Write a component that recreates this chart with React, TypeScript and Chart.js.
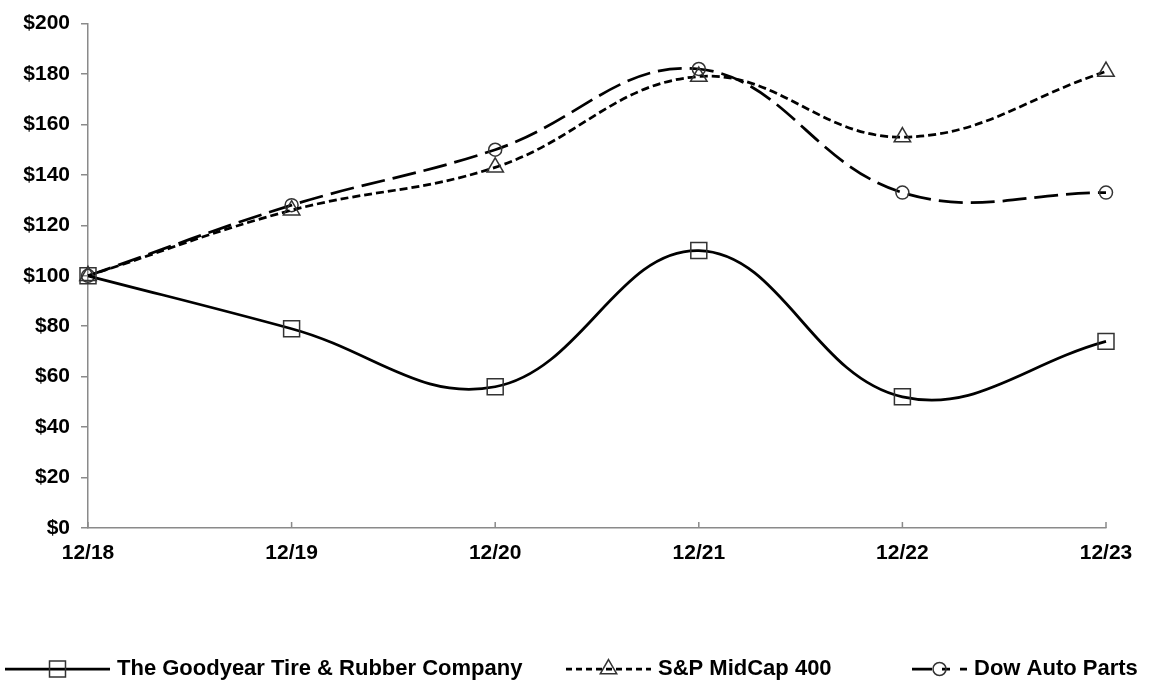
import React, { useEffect, useRef } from "react";
import { Chart, registerables } from "chart.js";

Chart.register(...registerables);

const categories = ["12/18", "12/19", "12/20", "12/21", "12/22", "12/23"];
const goodyear = [100, 79, 56, 110, 52, 74];
const spMidCap = [100, 126, 143, 179, 155, 181];
const dowAuto = [100, 128, 150, 182, 133, 133];
const seriesNames = ["The Goodyear Tire & Rubber Company", "S&P MidCap 400", "Dow Auto Parts"];
const yTicks = [0, 20, 40, 60, 80, 100, 120, 140, 160, 180, 200];

const FONT = "'Liberation Sans', Arial, Helvetica, sans-serif";
const AXIS_GRAY = "#8a8a8a";
const MARKER = "#333333";

const drawMarker = (ctx: CanvasRenderingContext2D, style: string, r: number, x: number, y: number) => {
  ctx.beginPath();
  if (style === "rect") {
    const s = r / Math.SQRT2;
    ctx.rect(x - s, y - s, 2 * s, 2 * s);
  } else if (style === "triangle") {
    const side = (3 * r) / Math.sqrt(3);
    const h = (side * Math.sqrt(3)) / 2;
    ctx.moveTo(x, y - (2 * h) / 3);
    ctx.lineTo(x + side / 2, y + h / 3);
    ctx.lineTo(x - side / 2, y + h / 3);
    ctx.closePath();
  } else {
    ctx.arc(x, y, r, 0, Math.PI * 2);
  }
  ctx.stroke();
};

const legendPlugin = {
  id: "customLegend",
  afterDraw(chart: any) {
    const ctx = chart.ctx as CanvasRenderingContext2D;
    const sampleStarts = [5, 566, 912];
    const sampleLens = [105, 85, 55];
    const sampleDash = [[], [6, 4], [20, 10, 8, 10]];
    const textGap = 7;
    const y = 669;
    ctx.save();
    ctx.font = `bold 22px ${FONT}`;
    chart.data.datasets.forEach((d: any, i: number) => {
      const x = sampleStarts[i];
      ctx.save();
      ctx.strokeStyle = d.borderColor;
      ctx.lineWidth = d.borderWidth;
      ctx.setLineDash(sampleDash[i]);
      ctx.beginPath();
      ctx.moveTo(x, y);
      ctx.lineTo(x + sampleLens[i], y);
      ctx.stroke();
      ctx.setLineDash([]);
      ctx.strokeStyle = d.pointBorderColor;
      ctx.lineWidth = d.pointBorderWidth;
      drawMarker(ctx, d.pointStyle, d.pointRadius, x + sampleLens[i] / 2, y);
      ctx.restore();
      ctx.fillStyle = "#000";
      ctx.textBaseline = "middle";
      ctx.textAlign = "left";
      ctx.fillText(d.label, x + sampleLens[i] + textGap, y);
    });
    ctx.restore();
  },
};

const innerTicksPlugin = {
  id: "innerXTicks",
  afterDraw(chart: any) {
    const ctx = chart.ctx as CanvasRenderingContext2D;
    const xs = chart.scales.x;
    const bottom = chart.chartArea.bottom;
    ctx.save();
    ctx.strokeStyle = AXIS_GRAY;
    ctx.lineWidth = 1.5;
    xs.ticks.forEach((_t: any, i: number) => {
      const px = xs.getPixelForTick(i);
      ctx.beginPath();
      ctx.moveTo(px, bottom);
      ctx.lineTo(px, bottom - 6);
      ctx.stroke();
    });
    ctx.restore();
  },
};

export default function App() {
  const ref = useRef<HTMLCanvasElement | null>(null);
  useEffect(() => {
    document.body.style.margin = "0";
    const canvas = ref.current;
    if (!canvas) return;
    const common = {
      borderColor: "#000000",
      borderWidth: 2.75,
      backgroundColor: "transparent",
      pointBackgroundColor: "transparent",
      pointBorderColor: MARKER,
      pointBorderWidth: 1.5,
      tension: 0.4,
      clip: false as const,
      fill: false,
    };
    const chart = new Chart(canvas, {
      type: "line",
      data: {
        labels: categories,
        datasets: [
          { ...common, label: seriesNames[0], data: goodyear, pointStyle: "rect", pointRadius: 11.3, borderDash: [] },
          { ...common, label: seriesNames[1], data: spMidCap, pointStyle: "triangle", pointRadius: 9.5, borderDash: [8, 4] },
          { ...common, label: seriesNames[2], data: dowAuto, pointStyle: "circle", pointRadius: 6.5, borderDash: [24, 8] },
        ] as any,
      },
      options: {
        animation: false,
        responsive: false,
        maintainAspectRatio: false,
        layout: { padding: { left: 0, right: 48, top: 20, bottom: 0 } },
        plugins: { legend: { display: false }, tooltip: { enabled: false } },
        scales: {
          x: {
            type: "category",
            offset: false,
            grid: { display: true, drawOnChartArea: false, drawTicks: false, color: AXIS_GRAY, lineWidth: 1.5 },
            border: { display: true, color: AXIS_GRAY, width: 1.5 },
            ticks: {
              color: "#000",
              font: { family: FONT, size: 21, weight: "bold" },
              padding: 13,
              maxRotation: 0,
              autoSkip: false,
            },
            afterFit: (s: any) => {
              s.height = 161;
            },
          },
          y: {
            min: 0,
            max: 200,
            afterBuildTicks: (s: any) => {
              s.ticks = yTicks.map((v) => ({ value: v }));
            },
            grid: { display: true, drawOnChartArea: false, drawTicks: true, tickLength: 7, color: AXIS_GRAY, lineWidth: 1.5 },
            border: { display: true, color: AXIS_GRAY, width: 1.5 },
            ticks: {
              color: "#000",
              font: { family: FONT, size: 21, weight: "bold" },
              padding: 11,
              callback: (v: any) => "$" + v,
            },
            afterFit: (s: any) => {
              s.width = 88;
            },
          },
        },
      } as any,
      plugins: [legendPlugin, innerTicksPlugin],
    });
    return () => chart.destroy();
  }, []);
  return (
    <div style={{ width: 1154, height: 689, background: "#fff" }}>
      <canvas ref={ref} width={1154} height={689} style={{ display: "block" }} />
    </div>
  );
}
